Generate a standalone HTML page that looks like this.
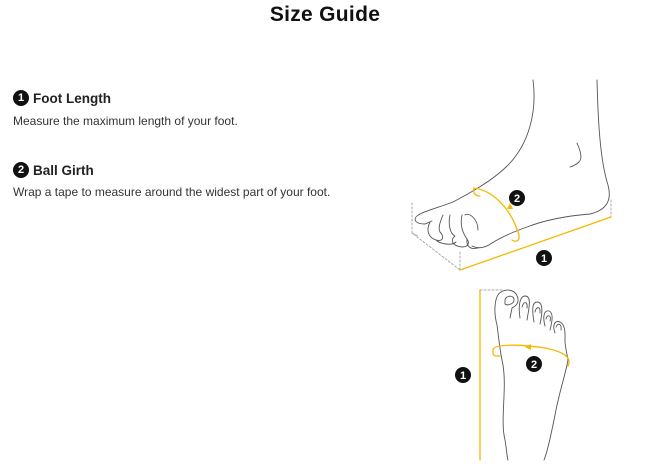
<!DOCTYPE html>
<html><head><style>
body{margin:0;width:645px;height:469px;background:#fff;font-family:"Liberation Sans",Arial,sans-serif;color:#222;position:relative;overflow:hidden}
h1{position:absolute;top:3px;left:0;width:650px;text-align:center;margin:0;font-size:21px;font-weight:900;color:#111;letter-spacing:0.3px}
.h{position:absolute;left:13px;font-size:13.5px;font-weight:bold;color:#222;display:flex;align-items:center;height:16px}
.n{display:inline-block;width:16px;height:16px;border-radius:50%;background:#111;color:#fff;font-size:11px;text-align:center;line-height:16px;margin-right:4px}
.p{position:absolute;left:13px;font-size:12px;color:#333}
</style></head><body>
<h1>Size Guide</h1>
<div class="h" style="top:90px"><span class="n">1</span>Foot Length</div>
<div class="p" style="top:114px">Measure the maximum length of your foot.</div>
<div class="h" style="top:162px"><span class="n">2</span>Ball Girth</div>
<div class="p" style="top:185px">Wrap a tape to measure around the widest part of your foot.</div>
<svg width="645" height="469" style="position:absolute;left:0;top:0" fill="none" stroke-linecap="round">
<g stroke="#555" stroke-width="0.9">
<path d="M533 80 C537 110 530 145 505 168 C490 182 470 193 453 202 C440 207 428 210 420 214"/>
<path d="M597 80 C598 120 600 160 608 185 C612 200 607 210 590 214 C565 216 545 220 527 227 C510 233 500 238 492 243 C485 248 478 249 472 246"/>
<path d="M420 214 C412 218 414 224 425 224 L432 221"/>
<path d="M430 222 C425 232 430 238 436 240 C444 242 444 236 440 232 M436 240 C440 244 452 246 456 242 M443 215 C440 222 438 228 440 232 M450 215 C448 224 450 234 455 236 M455 236 C450 240 452 246 462 247 C468 247 470 243 467 239 M462 215 C460 224 462 232 467 239 M467 239 C466 246 470 250 478 248 M465 215 C470 212 478 220 478 230"/>
<path d="M577 143 C580 150 583 158 579 162 C577 164 573 166 570 167"/>
<path d="M501 292 C495 295 493 310 497 325 C499 340 500 352 503 365 C507 390 500 420 505 440 C507 452 507 458 508 460"/>
<path d="M501 292 C508 288 514 291 516 294 C520 300 518 305 512 308 L510 318 M505 300 C505 296 514 294 514 300 C514 304 507 306 505 304Z"/>
<path d="M520 318 C518 305 520 296 525 296 C532 296 529 308 527 320 M534 322 C532 310 532 302 537 302 C544 302 542 315 540 324 M545 326 C542 315 545 310 549 311 C554 313 552 322 550 330 M555 333 C552 325 555 320 560 322 C566 325 565 335 565 342 C566 352 568 358 568 360 C566 372 560 390 556 410 C552 430 548 450 544 460"/>
<path d="M522 307 C524 300 528 302 527 308 M535 312 C536 306 541 306 540 313 M546 319 C547 314 552 315 550 321 M556 327 C558 322 562 324 561 330"/>
</g>
<g stroke="#aaa" stroke-width="1" stroke-dasharray="2,2">
<path d="M412 203 V233 L460 270 M412 233 L418 236 M460 252 V270 M611 200 V217 M480 290 H503"/>
</g>
<g stroke="#f5b800" stroke-width="1.3">
<path d="M460 270 L611 217"/>
<path d="M480 290 V460"/>
<path d="M474 188 C490 190 510 205 519 235 C520 242 515 242 512 240"/>
<path d="M474 188 C472 194 477 196 480 196"/>
<path d="M493 350 C493 344 520 344 545 348 C565 352 572 358 568 366 M493 350 C492 357 496 356 500 356"/>
</g>
<path d="M507 209 l3 -6 l3 6z" fill="#f5b800"/>
<path d="M531 344 l-6 3 l6 3z" fill="#f5b800"/>
<g font-family="Liberation Sans,Arial,sans-serif" font-size="11" font-weight="bold" text-anchor="middle">
<circle cx="517" cy="198" r="8" fill="#111"/><text x="517" y="202" fill="#fff">2</text>
<circle cx="544" cy="258" r="8" fill="#111"/><text x="544" y="262" fill="#fff">1</text>
<circle cx="463" cy="375" r="8" fill="#111"/><text x="463" y="379" fill="#fff">1</text>
<circle cx="534" cy="364" r="8" fill="#111"/><text x="534" y="368" fill="#fff">2</text>
</g>
</svg>
</body></html>
